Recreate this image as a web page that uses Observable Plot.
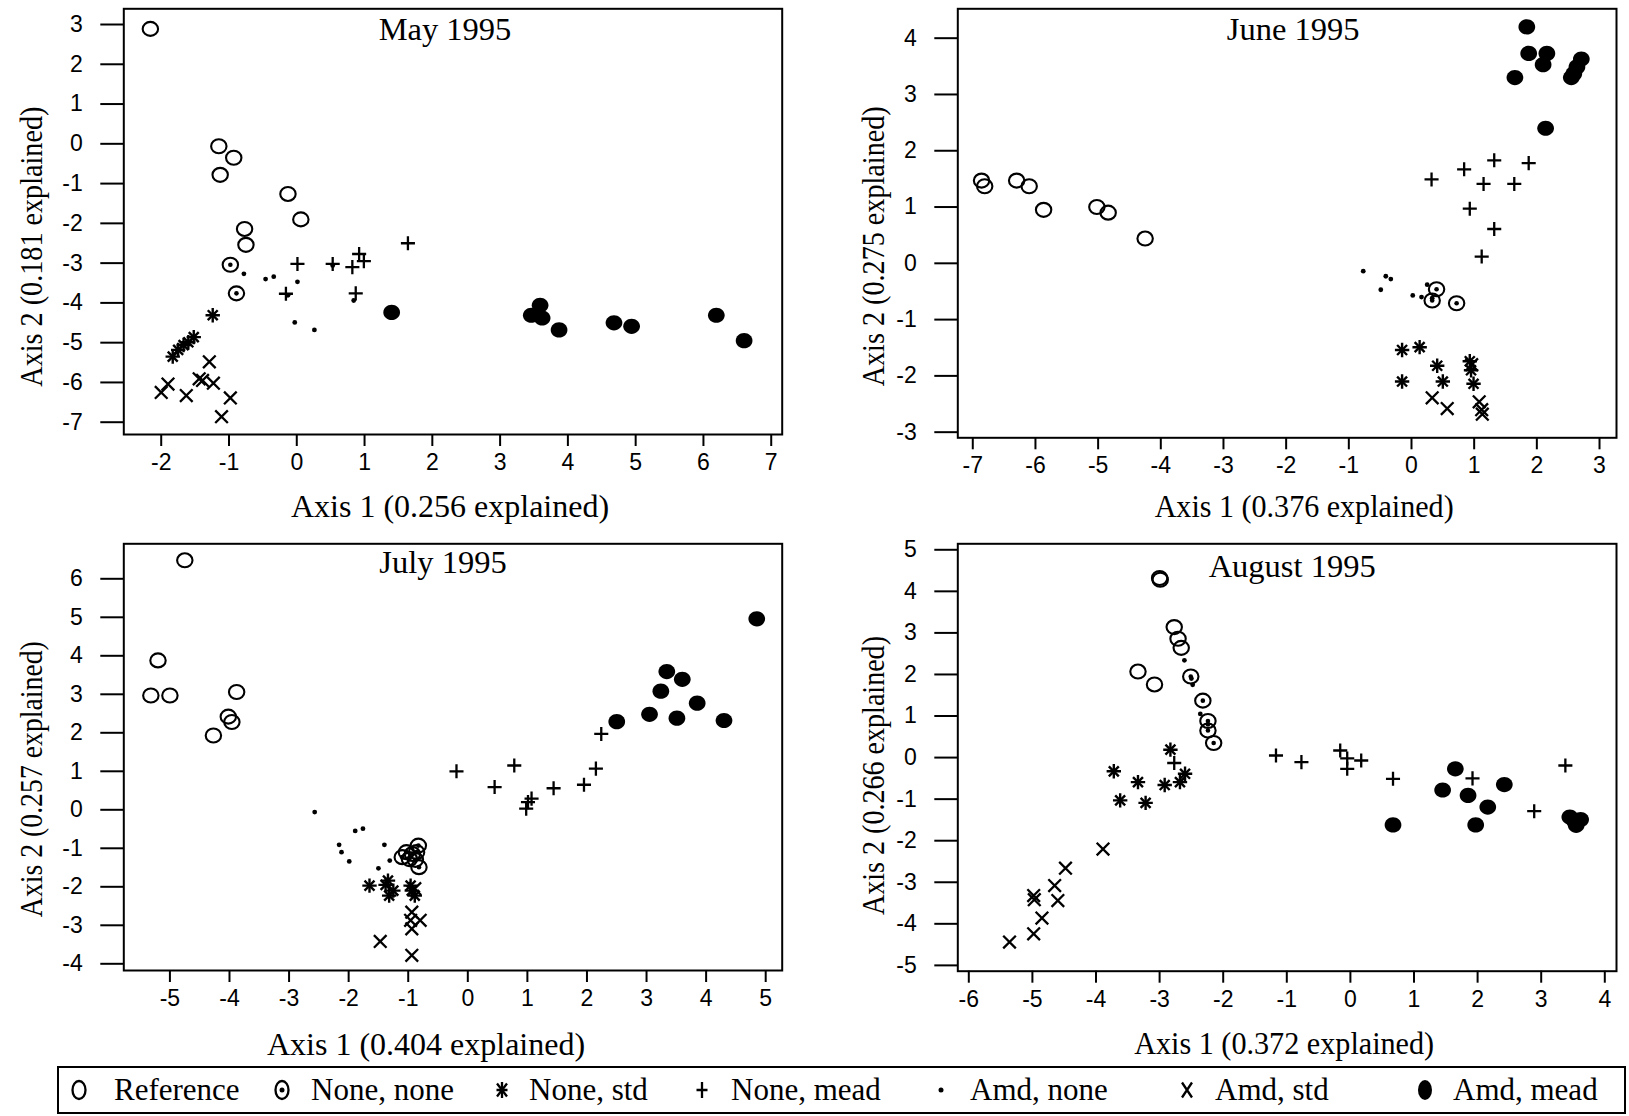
<!DOCTYPE html>
<html>
<head>
<meta charset="utf-8">
<script src="https://cdn.jsdelivr.net/npm/d3@7"></script>
<script src="https://cdn.jsdelivr.net/npm/@observablehq/plot@0.6"></script>
<style>
  html, body { margin: 0; padding: 0; background: #fff; }
  #wrap { position: relative; width: 1629px; height: 1116px; overflow: hidden; background: #fff; }
  .panel { position: absolute; }
  .panel svg { overflow: visible; }
  #legend { position: absolute; left: 57px; top: 1066px; width: 1565px; height: 44px; border: 2px solid #000;
            font-family: 'Liberation Serif', 'Times New Roman', serif; font-size: 31px; color: #000; }
  .lsym { position: absolute; top: 9px; }
  .ltxt { position: absolute; top: 0; line-height: 44px; white-space: nowrap; }
</style>
</head>
<body>
<div id="wrap"></div>
<script>
// ---------- data (Axis 1, Axis 2 scores) ----------
const groups = ["Reference", "None, none", "None, std", "None, mead", "Amd, none", "Amd, std", "Amd, mead"];

// May 1995
const may_ref   = [[-2.16,2.89],[-1.15,-0.06],[-0.93,-0.35],[-1.13,-0.78],[-0.13,-1.26],[0.06,-1.9],[-0.77,-2.14],[-0.75,-2.54]];
const may_nn    = [[-0.98,-3.04],[-0.89,-3.76]];
const may_nstd  = [[-1.24,-4.31],[-1.52,-4.86],[-1.6,-4.99],[-1.67,-5.06],[-1.75,-5.18],[-1.83,-5.35]];
const may_nmead = [[1.64,-2.5],[0.92,-2.77],[0.99,-2.95],[0.82,-3.1],[0.01,-3.02],[0.53,-3.02],[-0.16,-3.77],[0.87,-3.76]];
const may_anone = [[-0.78,-3.27],[-0.46,-3.4],[-0.34,-3.34],[0.01,-3.47],[-0.03,-4.49],[0.26,-4.68],[-0.13,-3.81],[0.84,-3.94],[0.53,-3.06]];
const may_astd  = [[-1.29,-5.48],[-1.9,-6.04],[-2.0,-6.25],[-1.63,-6.33],[-1.44,-5.91],[-1.39,-5.95],[-1.23,-6.02],[-0.98,-6.39],[-1.11,-6.86]];
const may_amead = [[1.4,-4.24],[3.59,-4.06],[3.46,-4.31],[3.62,-4.38],[3.87,-4.68],[4.68,-4.5],[4.94,-4.59],[6.19,-4.31],[6.6,-4.95]];

// June 1995
const jun_ref   = [[-6.86,1.47],[-6.81,1.37],[-6.3,1.47],[-6.1,1.37],[-5.87,0.95],[-5.02,1.0],[-4.84,0.9],[-4.25,0.44]];
const jun_nn    = [[0.4,-0.46],[0.33,-0.66],[0.72,-0.71]];
const jun_nstd  = [[-0.15,-1.54],[0.13,-1.49],[0.41,-1.82],[-0.15,-2.1],[0.5,-2.1],[0.93,-1.74],[0.95,-1.9],[0.99,-2.14]];
const jun_nmead = [[0.32,1.49],[0.84,1.67],[1.32,1.83],[1.87,1.78],[1.15,1.41],[1.64,1.41],[0.93,0.97],[1.32,0.61],[1.12,0.12]];
const jun_anone = [[-0.77,-0.14],[-0.41,-0.23],[-0.33,-0.28],[-0.49,-0.47],[0.02,-0.57],[0.16,-0.6],[0.25,-0.38],[0.33,-0.62]];
const jun_astd  = [[0.33,-2.39],[0.57,-2.58],[1.08,-2.46],[1.12,-2.6],[1.13,-2.68],[0.96,-1.8]];
const jun_amead = [[1.84,4.2],[1.87,3.73],[2.16,3.73],[2.1,3.53],[1.65,3.3],[2.71,3.63],[2.64,3.49],[2.59,3.37],[2.55,3.3],[2.14,2.4]];

// July 1995
const jul_ref   = [[-4.75,6.48],[-5.2,3.88],[-5.32,2.97],[-5.0,2.97],[-3.88,3.06],[-4.02,2.42],[-3.96,2.28],[-4.27,1.93]];
const jul_nn    = [[-0.83,-0.93],[-1.03,-1.1],[-1.1,-1.23],[-0.93,-1.15],[-0.88,-1.3],[-0.82,-1.49],[-0.98,-1.28],[-0.86,-1.1]];
const jul_nstd  = [[-1.65,-1.97],[-1.34,-1.84],[-1.32,-2.23],[-1.25,-2.1],[-0.96,-1.97],[-0.94,-2.1],[-0.89,-2.23],[-1.38,-1.95]];
const jul_nmead = [[-0.19,1.0],[0.45,0.59],[0.78,1.15],[0.98,0.03],[1.01,0.2],[1.07,0.29],[1.44,0.56],[1.95,0.65],[2.15,1.07],[2.24,1.97]];
const jul_anone = [[-2.57,-0.06],[-2.16,-0.91],[-2.12,-1.1],[-1.99,-1.34],[-1.89,-0.55],[-1.76,-0.49],[-1.4,-0.91],[-1.31,-1.32],[-1.5,-1.52]];
const jul_astd  = [[-0.94,-2.66],[-0.96,-2.87],[-0.8,-2.87],[-0.94,-3.09],[-0.89,-2.05],[-1.47,-3.42],[-0.94,-3.78]];
const jul_amead = [[2.5,2.29],[3.05,2.48],[3.24,3.08],[3.34,3.59],[3.6,3.39],[3.51,2.38],[3.85,2.77],[4.3,2.32],[4.85,4.96]];

// August 1995
const aug_ref   = [[-3.0,4.32],[-2.99,4.28],[-2.77,3.14],[-2.71,2.86],[-2.66,2.64],[-3.34,2.07],[-3.08,1.76]];
const aug_nn    = [[-2.51,1.95],[-2.32,1.37],[-2.24,0.88],[-2.24,0.65],[-2.15,0.35]];
const aug_nstd  = [[-2.83,0.19],[-3.72,-0.33],[-3.34,-0.59],[-2.92,-0.66],[-2.68,-0.59],[-2.6,-0.39],[-3.62,-1.03],[-3.22,-1.09]];
const aug_nmead = [[-1.17,0.05],[-0.77,-0.11],[-0.16,0.17],[-0.05,-0.02],[-0.05,-0.27],[0.17,-0.07],[0.67,-0.51],[1.92,-0.5],[2.89,-1.29],[3.38,-0.19],[-2.77,-0.13]];
const aug_anone = [[-2.61,2.34],[-2.48,1.75],[-2.36,1.05],[-2.5,1.9],[-2.24,0.8]];
const aug_astd  = [[-3.89,-2.2],[-4.48,-2.66],[-4.65,-3.08],[-4.6,-3.44],[-4.98,-3.32],[-4.97,-3.42],[-4.85,-3.86],[-4.98,-4.24],[-5.36,-4.44]];
const aug_amead = [[0.67,-1.62],[1.45,-0.78],[1.65,-0.27],[1.85,-0.91],[2.16,-1.19],[1.97,-1.62],[2.42,-0.65],[3.45,-1.43],[3.62,-1.49],[3.55,-1.63],[3.52,-1.52]];

// titles, axis labels, ticks
const titles = ["May 1995", "June 1995", "July 1995", "August 1995"];
const xLabels = ["Axis 1 (0.256 explained)", "Axis 1 (0.376 explained)", "Axis 1 (0.404 explained)", "Axis 1 (0.372 explained)"];
const yLabels = ["Axis 2 (0.181 explained)", "Axis 2 (0.275 explained)", "Axis 2 (0.257 explained)", "Axis 2 (0.266 explained)"];
const xTicks = [d3.range(-2, 8), d3.range(-7, 4), d3.range(-5, 6), d3.range(-6, 5)];
const yTicks = [d3.range(-7, 4), d3.range(-3, 5), d3.range(-4, 7), d3.range(-5, 6)];
const xDomains = [[-2.552, 7.162], [-7.239, 3.271], [-5.774, 5.277], [-6.173, 4.184]];
const yDomains = [[-7.309, 3.395], [-3.10, 4.522], [-4.174, 6.909], [-5.14, 5.144]];
const panelData = [
  [may_ref, may_nn, may_nstd, may_nmead, may_anone, may_astd, may_amead],
  [jun_ref, jun_nn, jun_nstd, jun_nmead, jun_anone, jun_astd, jun_amead],
  [jul_ref, jul_nn, jul_nstd, jul_nmead, jul_anone, jul_astd, jul_amead],
  [aug_ref, aug_nn, aug_nstd, aug_nmead, aug_anone, aug_astd, aug_amead]
];

// ---------- layout ----------
const SANS = "'Liberation Sans', Arial, Helvetica, sans-serif";
const SERIF = "'Liberation Serif', 'Times New Roman', Times, serif";
const layout = [
  {left: 0,   top: 0,   width: 814, height: 535, mL: 123.3, mT: 8.3, mR: 32.3, mB: 101,
   tdx: -8, tdy: 21, xdx: -3, xdy: 72, ydx: -92, ydy: 25, xLen: null, yLen: 280},
  {left: 814, top: 0,   width: 815, height: 535, mL: 143.3, mT: 8.3, mR: 13, mB: 97.7,
   tdx: 6, tdy: 21, xdx: 17, xdy: 69, ydx: -84, ydy: 23, xLen: 299, yLen: 280},
  {left: 0,   top: 535, width: 814, height: 531, mL: 123.3, mT: 8.3, mR: 32.3, mB: 96,
   tdx: -10, tdy: 19, xdx: -27, xdy: 74, ydx: -92, ydy: 22, xLen: null, yLen: 276},
  {left: 814, top: 535, width: 815, height: 531, mL: 143.3, mT: 8.3, mR: 13, mB: 95.3,
   tdx: 5, tdy: 23, xdx: -3, xdy: 73, ydx: -84, ydy: 18, xLen: 300, yLen: 279}
];

// slightly wide ellipse (the source figure is a little stretched horizontally)
function ellipse(sx) {
  return {
    draw(ctx, size) {
      const r = Math.sqrt(size / Math.PI), a = r * sx, b = r, k = 0.5523;
      ctx.moveTo(a, 0);
      ctx.bezierCurveTo(a, b * k, a * k, b, 0, b);
      ctx.bezierCurveTo(-a * k, b, -a, b * k, -a, 0);
      ctx.bezierCurveTo(-a, -b * k, -a * k, -b, 0, -b);
      ctx.bezierCurveTo(a * k, -b, a, -b * k, a, 0);
      ctx.closePath();
    }
  };
}
const ELL = ellipse(1.1);
const X = d => d[0], Y = d => d[1];

function groupMarks(g, data) {
  switch (g) {
    case 0: return [Plot.dot(data, {x: X, y: Y, symbol: ELL, r: 7, fill: "none", stroke: "black", strokeWidth: 2.1})];
    case 1: return [Plot.dot(data, {x: X, y: Y, symbol: ELL, r: 7, fill: "none", stroke: "black", strokeWidth: 2.1}),
                    Plot.dot(data, {x: X, y: Y, r: 2.3, fill: "black", stroke: "none"})];
    case 2: return [Plot.dot(data, {x: X, y: Y, symbol: "plus", r: 4.7, stroke: "black", strokeWidth: 2.4}),
                    Plot.dot(data, {x: X, y: Y, symbol: "times", r: 4.6, stroke: "black", strokeWidth: 2.4})];
    case 3: return [Plot.dot(data, {x: X, y: Y, symbol: "plus", r: 4.6, stroke: "black", strokeWidth: 2.3})];
    case 4: return [Plot.dot(data, {x: X, y: Y, r: 2.4, fill: "black", stroke: "none"})];
    case 5: return [Plot.dot(data, {x: X, y: Y, symbol: "times", r: 5.8, stroke: "black", strokeWidth: 2.3})];
    case 6: return [Plot.dot(data, {x: X, y: Y, symbol: ELL, r: 7.6, fill: "black", stroke: "none"})];
  }
}

const fmt = d => String(d);
const wrap = document.getElementById("wrap");

function fitText(svg, content, len) {
  if (!len) return;
  svg.querySelectorAll("text").forEach(t => {
    if (t.textContent === content) {
      t.setAttribute("textLength", len);
      t.setAttribute("lengthAdjust", "spacingAndGlyphs");
    }
  });
}

layout.forEach((L, i) => {
  const marks = [
    Plot.frame({stroke: "black", strokeWidth: 2}),
    Plot.axisX(xTicks[i], {tickSize: 12, tickPadding: 7, fontSize: 23, fontFamily: SANS, tickFormat: fmt,
                           strokeWidth: 2, label: null, fill: "black", stroke: "black"}),
    Plot.axisY(yTicks[i], {tickSize: 23, tickPadding: 18, fontSize: 23, fontFamily: SANS, tickFormat: fmt,
                           strokeWidth: 2, label: null, fill: "black", stroke: "black"}),
    Plot.text([titles[i]], {frameAnchor: "top", text: d => d, dx: L.tdx, dy: L.tdy,
                            textAnchor: "middle", lineAnchor: "middle",
                            fontFamily: SERIF, fontSize: 32.5, fill: "black"}),
    Plot.text([xLabels[i]], {frameAnchor: "bottom", text: d => d, dx: L.xdx, dy: L.xdy,
                             textAnchor: "middle", lineAnchor: "middle",
                             fontFamily: SERIF, fontSize: 32, fill: "black"}),
    Plot.text([yLabels[i]], {frameAnchor: "left", text: d => d, rotate: -90, dx: L.ydx, dy: L.ydy,
                             textAnchor: "middle", lineAnchor: "middle",
                             fontFamily: SERIF, fontSize: 32, fill: "black"})
  ];
  panelData[i].forEach((data, g) => marks.push(...groupMarks(g, data)));
  const svg = Plot.plot({
    width: L.width, height: L.height,
    marginLeft: L.mL, marginTop: L.mT, marginRight: L.mR, marginBottom: L.mB,
    x: {domain: xDomains[i], label: null},
    y: {domain: yDomains[i], label: null},
    style: {background: "transparent", color: "black"},
    marks
  });
  fitText(svg, yLabels[i], L.yLen);
  fitText(svg, xLabels[i], L.xLen);
  const div = document.createElement("div");
  div.className = "panel";
  div.style.left = L.left + "px";
  div.style.top = L.top + "px";
  div.appendChild(svg);
  wrap.appendChild(div);
});

// ---------- legend ----------
const legendSymX = [20, 223, 443, 643, 882, 1128, 1366];
const legendTxtX = [55, 252, 470, 672, 911, 1156, 1394];
const legend = document.createElement("div");
legend.id = "legend";
wrap.appendChild(legend);
groups.forEach((name, g) => {
  const s = d3.create("svg").attr("class", "lsym").attr("width", 26).attr("height", 26)
    .style("left", (legendSymX[g] - 13) + "px");
  const c = s.append("g").attr("transform", "translate(13,13)");
  if (g === 0 || g === 1) c.append("ellipse").attr("rx", 6.5).attr("ry", 9).attr("fill", "none").attr("stroke", "black").attr("stroke-width", 2.3);
  if (g === 1) c.append("circle").attr("r", 2.5).attr("fill", "black");
  if (g === 2 || g === 3) c.append("path").attr("d", "M-5.5,0H5.5M0,-8V8").attr("stroke", "black").attr("stroke-width", 2.3);
  if (g === 2) c.append("path").attr("d", "M-5,-6.5L5,6.5M-5,6.5L5,-6.5").attr("stroke", "black").attr("stroke-width", 2.3);
  if (g === 4) c.append("circle").attr("r", 2.5).attr("fill", "black");
  if (g === 5) c.append("path").attr("d", "M-5,-7.5L5,7.5M-5,7.5L5,-7.5").attr("stroke", "black").attr("stroke-width", 2.3);
  if (g === 6) c.append("ellipse").attr("rx", 7).attr("ry", 10).attr("fill", "black");
  legend.appendChild(s.node());
  const t = document.createElement("span");
  t.className = "ltxt";
  t.style.left = legendTxtX[g] + "px";
  t.textContent = name;
  legend.appendChild(t);
});
</script>
</body>
</html>
